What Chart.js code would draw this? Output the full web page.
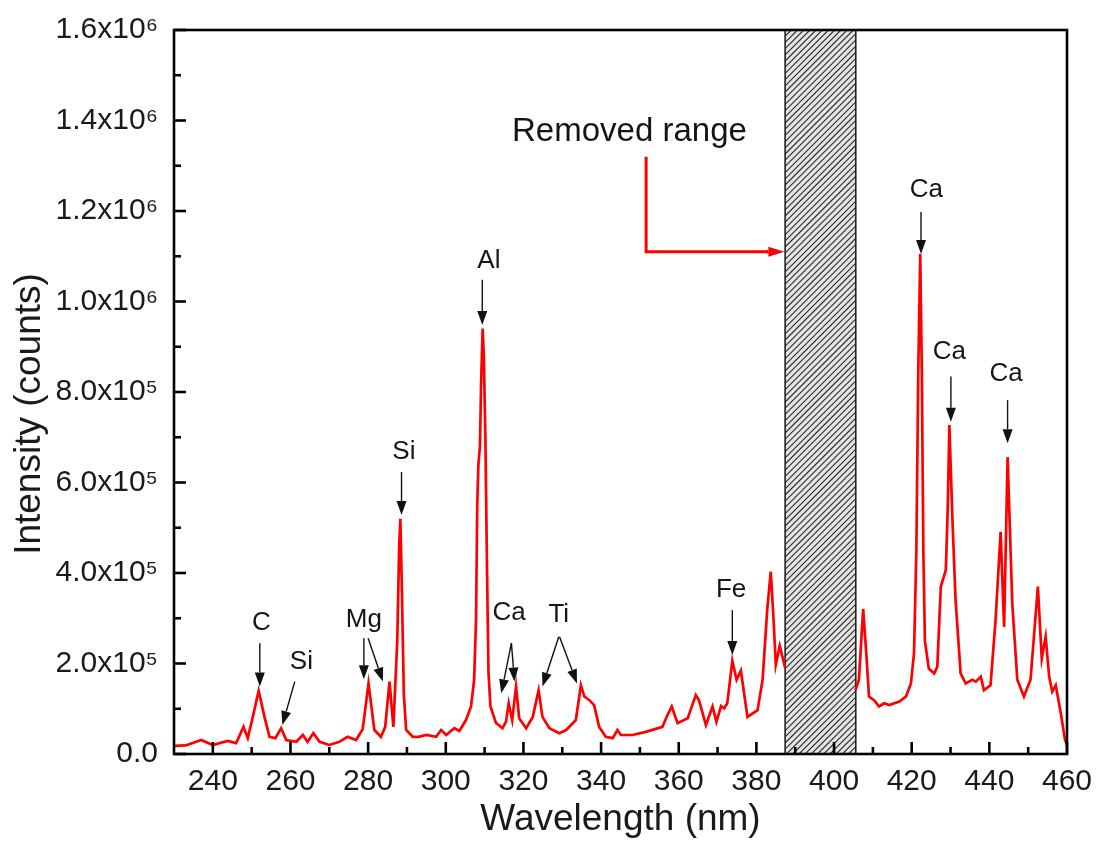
<!DOCTYPE html>
<html>
<head>
<meta charset="utf-8">
<script src="https://cdn.jsdelivr.net/npm/chart.js@4.4.0/dist/chart.umd.min.js"></script>
<style>
html,body{margin:0;padding:0;background:#fff;overflow:hidden;}
#wrap{width:1099px;height:850px;position:relative;}
</style>
</head>
<body>
<div id="wrap"><canvas id="c"></canvas></div>
<script>
// ---- data (wavelength in nm, intensity in counts); null = removed range gap ----
const wavelengths = [230,233,237,240,243.8,246,247.9,249,250.3,251.8,253.3,254.6,256.1,257.6,258.9,261.5,263.2,264.4,265.9,267.5,270,272.6,274.7,276.9,278.6,280.1,281.6,283.3,284.4,285.5,286.5,287.5,288.0,288.3,288.7,289.2,289.8,291.5,293,295,297.5,298.8,300.1,302.2,303.5,305.2,306.5,307.3,307.8,308.1,308.4,308.8,309.1,309.5,309.8,310.2,310.6,311.0,311.5,312.9,314.6,315.5,316.2,317.1,318.1,318.9,320.7,322.4,323.9,324.9,326.7,329.2,331,333.5,334.8,335.7,337,338.2,339.5,341.2,343,344.2,345.1,348.1,351.5,355.8,357.1,358.2,359.7,362.3,364.4,365.2,367,368.7,369.7,370.9,371.7,372.5,373.8,374.9,376,377.7,380.3,381.6,382.8,383.7,384.4,385,386,386.9,387.4,
  396,
  405.5,406.4,407.5,408.3,409,410.3,411.6,412.9,414.2,416.8,418.5,419.8,420.6,421.2,421.7,422.2,422.6,423.0,423.4,424.4,425.8,426.6,427.5,428.8,429.3,429.7,430.5,431.3,432.6,433.9,435.6,436.5,437.8,438.6,440.3,441.6,442.9,443.8,444.7,445.9,447.2,448.9,450.6,452.5,453.5,454.5,455.4,456.2,457.1,458.4,459.5,460];
const intensities = [1.8e4,1.9e4,3.1e4,2.0e4,2.9e4,2.4e4,6.0e4,3.5e4,8.2e4,1.40e5,8.2e4,3.8e4,3.5e4,5.7e4,3.1e4,2.7e4,4.2e4,2.7e4,4.6e4,2.7e4,2.0e4,2.7e4,3.8e4,3.1e4,5.5e4,1.56e5,5.3e4,3.8e4,6.0e4,1.60e5,6.0e4,2.5e5,4.6e5,5.2e5,3.6e5,1.3e5,5.3e4,3.8e4,3.8e4,4.2e4,3.8e4,5.3e4,4.2e4,5.7e4,5.1e4,7.5e4,1.05e5,1.64e5,3.0e5,5.5e5,6.4e5,6.8e5,8.2e5,9.4e5,8.8e5,7.0e5,4.2e5,1.8e5,1.05e5,6.9e4,5.7e4,7.1e4,1.12e5,7.5e4,1.49e5,7.9e4,5.7e4,8.2e4,1.41e5,8.2e4,5.7e4,4.6e4,5.3e4,7.5e4,1.52e5,1.27e5,1.19e5,1.08e5,6.0e4,3.8e4,3.5e4,5.3e4,4.2e4,4.2e4,4.9e4,6.0e4,8.6e4,1.05e5,6.8e4,7.9e4,1.30e5,1.19e5,6.4e4,1.05e5,7.1e4,1.06e5,1.01e5,1.12e5,2.06e5,1.64e5,1.84e5,8.2e4,9.7e4,1.64e5,3.2e5,4.03e5,3.0e5,1.97e5,2.39e5,2.08e5,1.9e5,
  null,
  1.41e5,1.64e5,3.2e5,2.23e5,1.27e5,1.19e5,1.05e5,1.12e5,1.08e5,1.16e5,1.27e5,1.56e5,2.23e5,4.5e5,8.5e5,1.105e6,8.5e5,4.5e5,2.5e5,1.89e5,1.78e5,1.93e5,3.7e5,4.07e5,5.5e5,7.27e5,5.17e5,3.4e5,1.78e5,1.56e5,1.64e5,1.6e5,1.71e5,1.41e5,1.52e5,2.96e5,4.91e5,2.81e5,6.56e5,3.33e5,1.64e5,1.27e5,1.64e5,3.70e5,2.11e5,2.59e5,1.71e5,1.38e5,1.52e5,9.0e4,3.1e4,2.0e4];

// ---- axes ----
const xMajorTicks = [240,260,280,300,320,340,360,380,400,420,440,460];
const xMinorTicks = [250,270,290,310,330,350,370,390,410,430,450];
const yMajorTicks = [0,2e5,4e5,6e5,8e5,1.0e6,1.2e6,1.4e6,1.6e6];
const yMinorTicks = [1e5,3e5,5e5,7e5,9e5,1.1e6,1.3e6,1.5e6];
const yTickLabels = ['0.0','2.0x10\u2075','4.0x10\u2075','6.0x10\u2075','8.0x10\u2075','1.0x10\u2076','1.2x10\u2076','1.4x10\u2076','1.6x10\u2076'];
const xTitle = 'Wavelength (nm)';
const yTitle = 'Intensity (counts)';

// ---- removed range (nm) ----
const removedRange = [387.4, 405.6];

// ---- peak annotations: label text and label centre in data coordinates ----
const annotationTexts = ['C','Si','Mg','Si','Al','Ca','Ti','Fe','Ca','Ca','Ca'];
const annotationX     = [252.5,262.8,278.9,289.2,311.1,316.3,329.1,373.5,423.8,429.7,444.3];
const annotationY     = [2.89e5,2.04e5,2.96e5,6.67e5,1.09e6,3.11e5,3.07e5,3.62e5,1.246e6,8.89e5,8.41e5];
// arrows: [x start, y start, x tip, y tip] in data coordinates
const arrowSegments = [
  [252.1,2.45e5,252.1,1.49e5],
  [261.1,1.60e5,257.9,6.4e4],
  [278.9,2.56e5,278.9,1.65e5],
  [280.0,2.56e5,283.8,1.60e5],
  [288.6,6.23e5,288.6,5.28e5],
  [309.4,1.048e6,309.4,9.48e5],
  [316.9,2.45e5,314.3,1.34e5],
  [316.9,2.45e5,317.7,1.60e5],
  [329.1,2.59e5,324.9,1.49e5],
  [329.3,2.59e5,333.8,1.56e5],
  [373.8,3.18e5,373.8,2.19e5],
  [422.4,1.198e6,422.4,1.105e6],
  [430.1,8.34e5,430.1,7.34e5],
  [444.7,7.82e5,444.7,6.87e5]
];
const removedText = 'Removed range';
const removedTextPos = [347.3, 1.375e6];
const redArrowX = [351.6, 351.6, 387.2];
const redArrowY = [1.32e6, 1.11e6, 1.11e6];

const FONT = '"Liberation Sans", Arial, Helvetica, sans-serif';

function drawArrow(ctx, x1, y1, x2, y2, color, lw, hl, hw) {
  const ang = Math.atan2(y2 - y1, x2 - x1);
  const bx = x2 - hl * Math.cos(ang), by = y2 - hl * Math.sin(ang);
  ctx.strokeStyle = color; ctx.fillStyle = color; ctx.lineWidth = lw;
  ctx.beginPath(); ctx.moveTo(x1, y1); ctx.lineTo(bx, by); ctx.stroke();
  ctx.beginPath();
  ctx.moveTo(x2, y2);
  ctx.lineTo(bx + hw * Math.sin(ang), by - hw * Math.cos(ang));
  ctx.lineTo(bx - hw * Math.sin(ang), by + hw * Math.cos(ang));
  ctx.closePath(); ctx.fill();
}

const decor = {
  id: 'decor',
  beforeDatasetsDraw(chart) {
    const {ctx, chartArea: a, scales: {x}} = chart;
    const x0 = x.getPixelForValue(removedRange[0]);
    const x1 = x.getPixelForValue(removedRange[1]);
    const H = a.bottom - a.top;
    ctx.save();
    ctx.fillStyle = '#e4e4e4';
    ctx.fillRect(x0, a.top, x1 - x0, H);
    ctx.beginPath(); ctx.rect(x0, a.top, x1 - x0, H); ctx.clip();
    ctx.strokeStyle = '#2a2a2a'; ctx.lineWidth = 1.1;
    for (let k = -H; k < (x1 - x0) + 10; k += 6.2) {
      ctx.beginPath(); ctx.moveTo(x0 + k, a.bottom); ctx.lineTo(x0 + k + H, a.top); ctx.stroke();
    }
    ctx.restore();
    ctx.save();
    ctx.strokeStyle = '#222'; ctx.lineWidth = 1.6;
    ctx.strokeRect(x0, a.top, x1 - x0, H);
    ctx.restore();
  },
  afterDatasetsDraw(chart) {
    const {ctx, chartArea: a, scales: {x, y}} = chart;
    ctx.save();
    // frame
    ctx.strokeStyle = '#000'; ctx.lineWidth = 2.6;
    ctx.strokeRect(a.left, a.top, a.right - a.left, a.bottom - a.top);
    // inward ticks
    const tick = (x1, y1, x2, y2) => { ctx.beginPath(); ctx.moveTo(x1, y1); ctx.lineTo(x2, y2); ctx.stroke(); };
    xMajorTicks.forEach(v => { const p = x.getPixelForValue(v); tick(p, a.bottom, p, a.bottom - 12); });
    xMinorTicks.forEach(v => { const p = x.getPixelForValue(v); tick(p, a.bottom, p, a.bottom - 7); });
    yMajorTicks.forEach(v => { const p = y.getPixelForValue(v); tick(a.left, p, a.left + 12, p); });
    yMinorTicks.forEach(v => { const p = y.getPixelForValue(v); tick(a.left, p, a.left + 7, p); });
    // black arrows
    arrowSegments.forEach(s => {
      drawArrow(ctx, x.getPixelForValue(s[0]), y.getPixelForValue(s[1]),
                x.getPixelForValue(s[2]), y.getPixelForValue(s[3]), '#111', 1.4, 14, 5);
    });
    // labels
    ctx.fillStyle = '#151515';
    ctx.font = '26px ' + FONT;
    ctx.textAlign = 'center'; ctx.textBaseline = 'middle';
    annotationTexts.forEach((t, i) => {
      ctx.fillText(t, x.getPixelForValue(annotationX[i]), y.getPixelForValue(annotationY[i]));
    });
    // removed range text + red arrow
    ctx.font = '33px ' + FONT;
    ctx.fillText(removedText, x.getPixelForValue(removedTextPos[0]), y.getPixelForValue(removedTextPos[1]));
    ctx.strokeStyle = '#ff0000'; ctx.lineWidth = 3;
    ctx.lineJoin = 'miter';
    ctx.beginPath();
    ctx.moveTo(x.getPixelForValue(redArrowX[0]), y.getPixelForValue(redArrowY[0]));
    ctx.lineTo(x.getPixelForValue(redArrowX[1]), y.getPixelForValue(redArrowY[1]));
    ctx.lineTo(x.getPixelForValue(redArrowX[2]) - 16, y.getPixelForValue(redArrowY[2]));
    ctx.stroke();
    drawArrow(ctx, x.getPixelForValue(redArrowX[2]) - 18, y.getPixelForValue(redArrowY[2]),
              x.getPixelForValue(redArrowX[2]), y.getPixelForValue(redArrowY[2]), '#ff0000', 3, 16, 5);
    // y axis title (centred slightly below the plot middle, as in the source figure)
    ctx.save();
    ctx.translate(30, (a.top + a.bottom) / 2 + 22);
    ctx.rotate(-Math.PI / 2);
    ctx.font = '37px ' + FONT;
    ctx.fillStyle = '#1a1a1a';
    ctx.textAlign = 'center'; ctx.textBaseline = 'middle';
    ctx.fillText(yTitle, 0, 0);
    ctx.restore();
    ctx.restore();
  }
};

const points = wavelengths.map((w, i) => ({x: w, y: intensities[i]}));

new Chart(document.getElementById('c'), {
  type: 'line',
  data: {
    datasets: [{
      data: points,
      borderColor: '#ff0000',
      borderWidth: 2.7,
      pointRadius: 0,
      tension: 0,
      spanGaps: false,
      fill: false
    }]
  },
  options: {
    responsive: true,
    maintainAspectRatio: false,
    animation: false,
    events: [],
    layout: {padding: {top: 30, right: 32, left: 0, bottom: 0}},
    plugins: {legend: {display: false}, tooltip: {enabled: false}},
    scales: {
      x: {
        type: 'linear', min: 230, max: 460,
        afterBuildTicks: s => { s.ticks = xMajorTicks.map(v => ({value: v})); },
        afterFit: s => { s.height = 96; s.paddingLeft = 0; s.paddingRight = 0; },
        grid: {display: false, drawTicks: false, tickLength: 0},
        border: {display: false},
        ticks: {color: '#1a1a1a', font: {family: FONT, size: 30}, padding: 10, maxRotation: 0, autoSkip: false,
                callback: v => String(v)},
        title: {display: true, text: xTitle, color: '#1a1a1a',
                font: {family: FONT, size: 37}, padding: {top: 0, bottom: 8}}
      },
      y: {
        type: 'linear', min: 0, max: 1.6e6,
        afterBuildTicks: s => { s.ticks = yMajorTicks.map(v => ({value: v})); },
        afterFit: s => { s.width = 174; s.paddingTop = 0; s.paddingBottom = 0; },
        grid: {display: false, drawTicks: false, tickLength: 0},
        border: {display: false},
        ticks: {color: '#1a1a1a', font: {family: FONT, size: 30}, padding: 16, autoSkip: false,
                callback: (v) => { const i = yMajorTicks.indexOf(v); return i >= 0 ? yTickLabels[i] : ''; }},
        title: {display: false}
      }
    }
  },
  plugins: [decor]
});
</script>
</body>
</html>
